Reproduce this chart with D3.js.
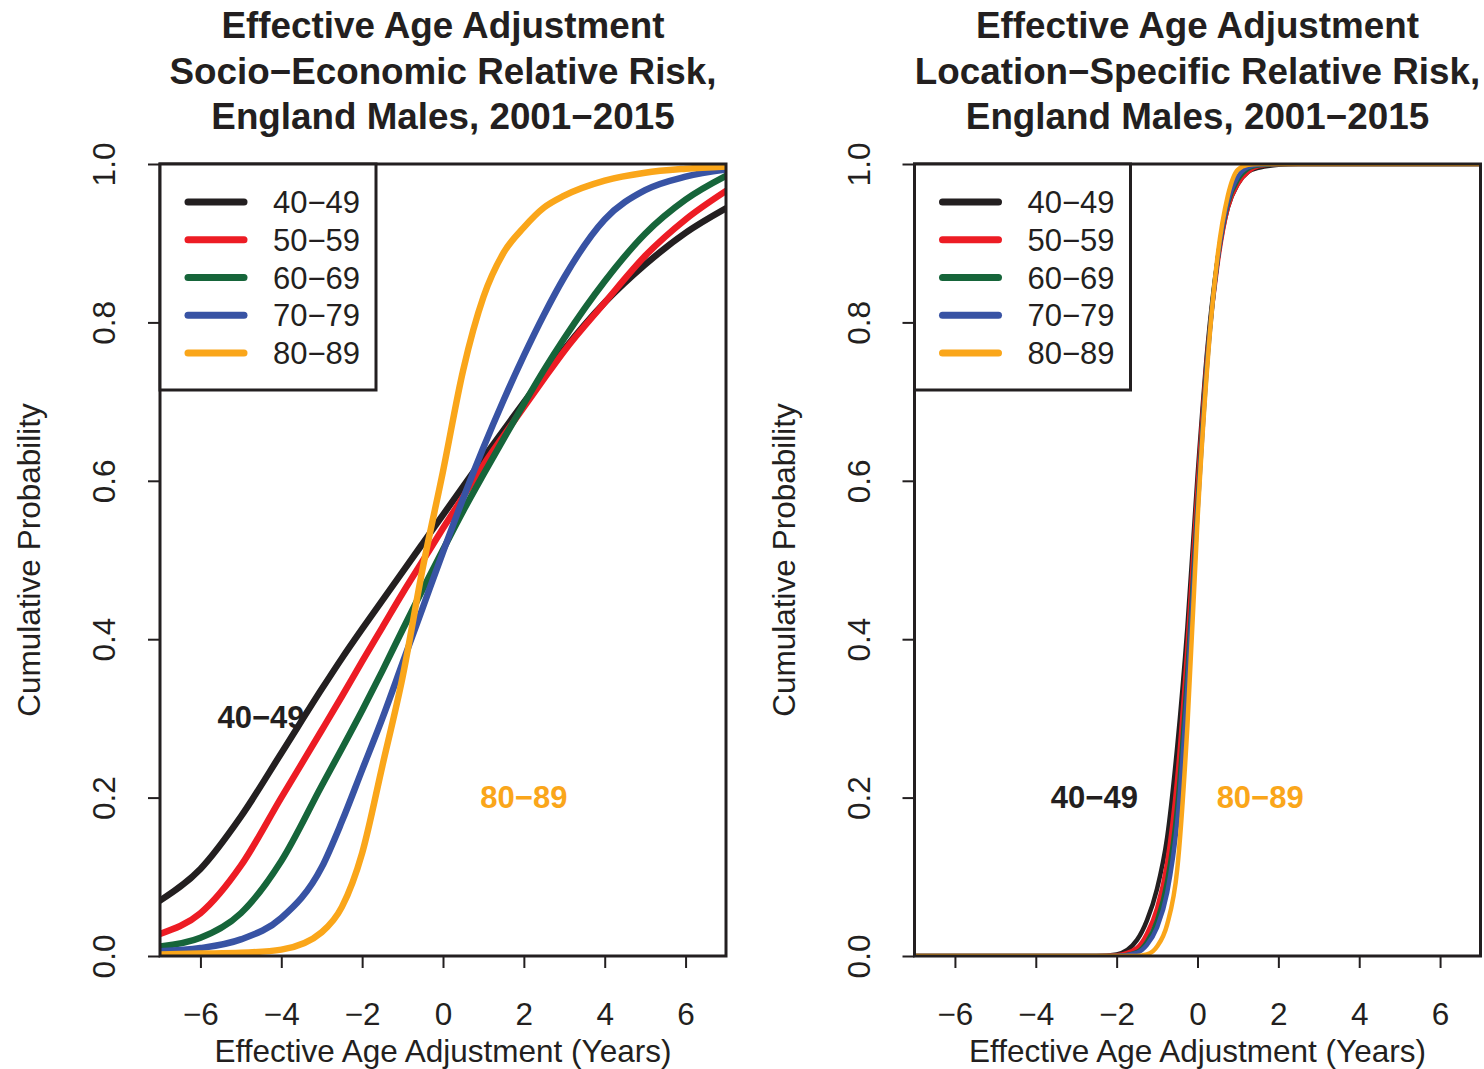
<!DOCTYPE html>
<html>
<head>
<meta charset="utf-8">
<script src="https://cdn.jsdelivr.net/npm/d3@7"></script>
<style>
  body { margin: 0; background: #fff; }
  svg { display: block; }
  text { font-family: "Liberation Sans", Arial, Helvetica, sans-serif; fill: #231f20; }
</style>
</head>
<body>
<div id="chart"></div>
<script>
(function () {
    'use strict';

    // ── data ────────────────────────────────────────────────────────────────
    const ageGroups = ['40−49', '50−59', '60−69', '70−79', '80−89'];

    const xTicks = [-6, -4, -2, 0, 2, 4, 6];
    const yTicks = [0, 0.2, 0.4, 0.6, 0.8, 1.0];

    // socio-economic panel (left)
    const xSocio = [-7, -6, -5, -4, -3, -2.5, -2, -1.5, -1, -0.5, 0, 0.5, 1, 1.5, 2, 2.5, 3, 4, 5, 6, 7];
    const socio40 = [0.070, 0.110, 0.176, 0.256, 0.337, 0.376, 0.413, 0.449, 0.485, 0.521, 0.557, 0.593, 0.629, 0.664, 0.699, 0.733, 0.766, 0.825, 0.873, 0.913, 0.944];
    const socio50 = [0.028, 0.054, 0.114, 0.200, 0.285, 0.328, 0.372, 0.415, 0.458, 0.499, 0.540, 0.580, 0.620, 0.657, 0.693, 0.729, 0.764, 0.825, 0.884, 0.930, 0.966];
    const socio60 = [0.012, 0.023, 0.054, 0.120, 0.215, 0.262, 0.310, 0.360, 0.412, 0.463, 0.513, 0.562, 0.608, 0.653, 0.697, 0.740, 0.780, 0.852, 0.912, 0.955, 0.985];
    const socio70 = [0.006, 0.010, 0.021, 0.048, 0.112, 0.170, 0.235, 0.300, 0.370, 0.440, 0.510, 0.578, 0.642, 0.702, 0.758, 0.810, 0.857, 0.930, 0.967, 0.984, 0.993];
    const socio80 = [0.002, 0.003, 0.004, 0.008, 0.030, 0.062, 0.130, 0.240, 0.352, 0.490, 0.612, 0.740, 0.832, 0.888, 0.920, 0.945, 0.960, 0.979, 0.989, 0.994, 0.997];

    // location-specific panel (right)
    const xLoc = [-7, -2.5, -2, -1.5, -1.25, -1, -0.75, -0.5, -0.25, 0, 0.25, 0.5, 0.75, 1, 1.25, 1.5, 2, 2.5, 7];
    const loc40 = [0, 0, 0.002, 0.020, 0.045, 0.085, 0.150, 0.265, 0.415, 0.605, 0.770, 0.880, 0.945, 0.975, 0.990, 0.995, 0.999, 1, 1];
    const loc50 = [0, 0, 0.001, 0.010, 0.028, 0.060, 0.118, 0.225, 0.390, 0.590, 0.765, 0.875, 0.945, 0.975, 0.990, 0.997, 1, 1, 1];
    const loc60 = [0, 0, 0, 0.005, 0.018, 0.045, 0.095, 0.190, 0.360, 0.570, 0.760, 0.880, 0.950, 0.980, 0.994, 0.998, 1, 1, 1];
    const loc70 = [0, 0, 0, 0.004, 0.014, 0.036, 0.080, 0.170, 0.340, 0.560, 0.755, 0.880, 0.952, 0.984, 0.996, 0.999, 1, 1, 1];
    const loc80 = [0, 0, 0, 0, 0.002, 0.012, 0.040, 0.110, 0.290, 0.550, 0.750, 0.885, 0.960, 0.993, 0.999, 1, 1, 1, 1];

    // in-plot labels: [x, y]
    const socioLabelPos = [[-4.5, 0.30], [2, 0.20]];
    const locLabelPos   = [[-2.55, 0.20], [1.55, 0.20]];

    const socioTitle = ['Effective Age Adjustment', 'Socio−Economic Relative Risk,', 'England Males, 2001−2015'];
    const locTitle   = ['Effective Age Adjustment', 'Location−Specific Relative Risk,', 'England Males, 2001−2015'];

    const colors = ['#231f20', '#ed1c24', '#16653a', '#3853a4', '#faa61a'];
    const ink = '#231f20';

    // ── svg ────────────────────────────────────────────────────────────────
    const W = 1484, H = 1069;
    const svg = d3.select('#chart').append('svg')
        .attr('width', W).attr('height', H);

    const top = 164, bottom = 956;
    const fs = '31.5px';

    function drawPanel(id, left, right, title, xs, series, labelPos, lineW) {
        const x = d3.scaleLinear().domain([-7, 7]).range([left, right]);
        const y = d3.scaleLinear().domain([0, 1]).range([bottom, top]);
        const cx = (left + right) / 2;
        const g = svg.append('g');

        // title
        g.append('g').selectAll('text').data(title).enter().append('text')
            .attr('x', cx)
            .attr('y', (d, i) => 38 + i * 45.5)
            .attr('text-anchor', 'middle')
            .style('font-size', '36.8px')
            .style('font-weight', 'bold')
            .text(d => d);

        // curves
        g.append('clipPath').attr('id', 'clip-' + id)
            .append('rect')
            .attr('x', left).attr('y', top)
            .attr('width', right - left).attr('height', bottom - top);

        const line = d3.line()
            .x((d, i) => x(xs[i]))
            .y(d => y(d))
            .curve(d3.curveMonotoneX);

        g.append('g').attr('clip-path', `url(#clip-${id})`)
            .selectAll('path').data(series).enter().append('path')
            .attr('d', d => line(d))
            .attr('fill', 'none')
            .attr('stroke', (d, i) => colors[i])
            .attr('stroke-width', lineW)
            .attr('stroke-linejoin', 'round')
            .attr('stroke-linecap', 'round');

        // axes
        const xAxis = g.append('g')
            .attr('transform', `translate(0,${bottom})`)
            .call(d3.axisBottom(x).tickValues(xTicks).tickSize(12).tickFormat(d3.format('d')));
        xAxis.select('.domain').remove();
        xAxis.selectAll('line').attr('stroke', ink).attr('stroke-width', 2);
        xAxis.selectAll('text')
            .attr('y', 69).attr('dy', 0)
            .attr('fill', ink)
            .style('font-size', fs)
            .style('font-family', '"Liberation Sans", Arial, sans-serif');

        const yAxis = g.append('g')
            .attr('transform', `translate(${left},0)`)
            .call(d3.axisLeft(y).tickValues(yTicks).tickSize(12).tickFormat(d3.format('.1f')));
        yAxis.select('.domain').remove();
        yAxis.selectAll('line').attr('stroke', ink).attr('stroke-width', 2);
        yAxis.selectAll('text')
            .attr('transform', 'rotate(-90)')
            .attr('x', 0).attr('y', -45).attr('dy', 0)
            .attr('text-anchor', 'middle')
            .attr('fill', ink)
            .style('font-size', fs)
            .style('font-family', '"Liberation Sans", Arial, sans-serif');

        // box
        g.append('rect')
            .attr('x', left).attr('y', top)
            .attr('width', right - left).attr('height', bottom - top)
            .attr('fill', 'none').attr('stroke', ink).attr('stroke-width', 3);

        // axis titles
        g.append('text')
            .attr('x', cx).attr('y', 1062)
            .attr('text-anchor', 'middle')
            .style('font-size', fs)
            .text('Effective Age Adjustment (Years)');

        g.append('text')
            .attr('transform', `translate(${left - 120},${(top + bottom) / 2}) rotate(-90)`)
            .attr('text-anchor', 'middle')
            .style('font-size', fs)
            .text('Cumulative Probability');

        // legend
        const lg = g.append('g').attr('transform', `translate(${left},${top})`);
        lg.append('rect')
            .attr('x', 0).attr('y', 0).attr('width', 216).attr('height', 226)
            .attr('fill', '#fff').attr('stroke', ink).attr('stroke-width', 3);
        const item = lg.selectAll('g.item').data(ageGroups).enter().append('g')
            .attr('class', 'item')
            .attr('transform', (d, i) => `translate(0,${38 + i * 37.75})`);
        item.append('line')
            .attr('x1', 28).attr('x2', 84)
            .attr('stroke', (d, i) => colors[i])
            .attr('stroke-width', 7)
            .attr('stroke-linecap', 'round');
        item.append('text')
            .attr('x', 113).attr('y', 11)
            .style('font-size', '31px')
            .text(d => d);

        // in-plot labels
        const labels = [
            { pos: labelPos[0], text: ageGroups[0], color: colors[0] },
            { pos: labelPos[1], text: ageGroups[4], color: colors[4] }
        ];
        g.append('g').selectAll('text').data(labels).enter().append('text')
            .attr('x', d => x(d.pos[0]))
            .attr('y', d => y(d.pos[1]) + 10)
            .attr('text-anchor', 'middle')
            .style('font-size', '31px')
            .style('font-weight', 'bold')
            .style('fill', d => d.color)
            .text(d => d.text);
    }

    drawPanel('socio', 160, 726, socioTitle, xSocio,
        [socio40, socio50, socio60, socio70, socio80], socioLabelPos, 6.5);
    drawPanel('loc', 914.5, 1480.5, locTitle, xLoc,
        [loc40, loc50, loc60, loc70, loc80], locLabelPos, 4.5);
})();
</script>
</body>
</html>
